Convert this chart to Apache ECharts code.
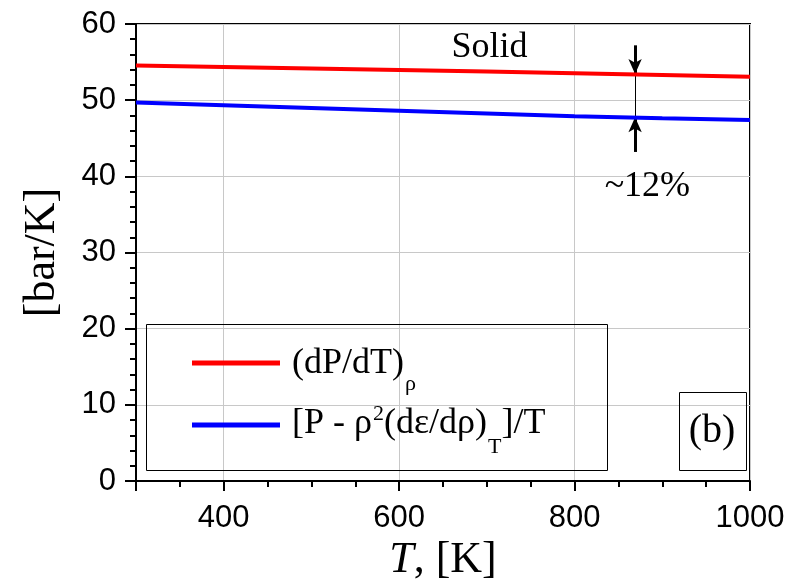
<!DOCTYPE html>
<html><head><meta charset="utf-8">
<script src="https://cdn.jsdelivr.net/npm/echarts@6/dist/echarts.min.js"></script>
<style>html,body{margin:0;padding:0;background:#fff}#c{width:790px;height:588px}</style>
</head><body><div id="c"></div>
<script>
// ---- data ----
const temperatures = [300, 400, 500, 600, 700, 800, 900, 1000];
const dPdT = [54.55, 54.35, 54.15, 53.95, 53.75, 53.52, 53.30, 53.08];
const energyRoute = [49.68, 49.32, 48.96, 48.60, 48.24, 47.88, 47.62, 47.38];
const seriesNames = ['dPdT', 'energy'];
const xTickLabels = [400, 600, 800, 1000];
const yTickLabels = [0, 10, 20, 30, 40, 50, 60];
// annotation anchors (data units)
const arrowT = 869;
const arrowDown = [57.2, 53.45];
const arrowUp = [43.2, 47.75];
const textNotes = [
  { name: 'Solid', T: 703, v: 56.85 },
  { name: '~12%', T: 883, v: 38.7 }
];

const SERIF = '"Liberation Serif", "Times New Roman", serif';
const SANS = '"Liberation Sans", Arial, sans-serif';

const chart = echarts.init(document.getElementById('c'), null, { renderer: 'canvas' });

const legendRich = {
  n: { fontFamily: SERIF, fontSize: 36, lineHeight: 40, color: '#000', verticalAlign: 'top', padding: [6, 0, 0, 0] },
  n0: { fontFamily: SERIF, fontSize: 36, lineHeight: 40, color: '#000', verticalAlign: 'top', padding: [6, 0, 0, 7] },
  s: { fontFamily: SERIF, fontSize: 22, lineHeight: 22, color: '#000', verticalAlign: 'top', padding: [33, 0, 0, 1] },
  t: { fontFamily: SERIF, fontSize: 22, lineHeight: 22, color: '#000', verticalAlign: 'top', padding: [36, 0, 0, 1] },
  p: { fontFamily: SERIF, fontSize: 22, lineHeight: 22, color: '#000', verticalAlign: 'top', padding: [3, 0, 0, 1] }
};

const option = {
  animation: false,
  backgroundColor: '#fff',
  grid: { left: 136, right: 40, top: 24, bottom: 107, show: true, borderColor: '#000', borderWidth: 2, backgroundColor: 'transparent' },
  xAxis: [
    {
      type: 'value', min: 300, max: 1000, splitNumber: 4,
      axisLine: { show: true, lineStyle: { color: '#000', width: 2 } },
      axisTick: { show: true, length: 10, lineStyle: { color: '#000', width: 2 } },
      axisLabel: { show: true, customValues: xTickLabels, margin: 22, color: '#000', fontFamily: SANS, fontSize: 31,
        formatter: v => String(v) },
      splitLine: { show: true, lineStyle: { color: '#c8c8c8', width: 1 } },
      name: '{i|T}{n|, [K]}', nameLocation: 'middle', nameGap: 52,
      nameTextStyle: { fontFamily: SERIF, fontSize: 44, color: '#000',
        rich: { i: { fontFamily: SERIF, fontSize: 44, fontStyle: 'italic', color: '#000' },
                n: { fontFamily: SERIF, fontSize: 44, color: '#000' } } }
    },
    {
      type: 'value', min: 300, max: 1000, interval: 50, position: 'bottom',
      axisLine: { show: false },
      axisTick: { show: true, length: 6, lineStyle: { color: '#000', width: 2 } },
      axisLabel: { show: false },
      splitLine: { show: false }
    }
  ],
  yAxis: {
    type: 'value', min: 0, max: 60, interval: 10,
    axisLine: { show: true, lineStyle: { color: '#000', width: 2 } },
    axisTick: { show: true, length: 11, lineStyle: { color: '#000', width: 2 } },
    minorTick: { show: true, splitNumber: 5, length: 6, lineStyle: { color: '#000', width: 2 } },
    axisLabel: { margin: 20, color: '#000', fontFamily: SANS, fontSize: 31,
      formatter: v => (yTickLabels.indexOf(v) >= 0 ? String(v) : '') },
    splitLine: { show: true, lineStyle: { color: '#c8c8c8', width: 1 } },
    name: '[bar/K]', nameLocation: 'middle', nameGap: 72,
    nameTextStyle: { fontFamily: SERIF, fontSize: 44, color: '#000' }
  },
  legend: {
    show: true, orient: 'vertical', left: 187, top: 335, itemWidth: 88, itemHeight: 5, itemGap: 5,
    icon: 'rect', selectedMode: false,
    data: [
      { name: seriesNames[0], textStyle: { height: 46 } },
      { name: seriesNames[1], textStyle: { height: 50 } }
    ],
    formatter: function (name) {
      if (name === seriesNames[0]) return '{n0|(dP/dT)}{s|ρ}';
      return '{n0|[P - ρ}{p|2}{n|(dε/dρ)}{t|T}{n|]/T}';
    },
    textStyle: { fontFamily: SERIF, fontSize: 36, color: '#000', rich: legendRich }
  },
  graphic: [
    { type: 'rect', left: 146, top: 324, z: 50, shape: { width: 461, height: 146 },
      style: { fill: 'rgba(0,0,0,0)', stroke: '#000', lineWidth: 1 } },
    { type: 'rect', left: 679, top: 392, z: 50, shape: { width: 67, height: 78 },
      style: { fill: 'rgba(0,0,0,0)', stroke: '#000', lineWidth: 1 } },
    { type: 'text', x: 712, y: 431, z: 51,
      style: { text: '(b)', font: '40px ' + SERIF, fill: '#000', align: 'center', verticalAlign: 'middle' } }
  ],
  series: [
    {
      type: 'line', name: seriesNames[0], symbol: 'none', smooth: false,
      data: temperatures.map((t, i) => [t, dPdT[i]]),
      lineStyle: { color: '#ff0000', width: 4 }, itemStyle: { color: '#ff0000' },
      z: 5,
      markLine: {
        silent: true, animation: false, symbolSize: [10, 15],
        label: { show: false }, emphasis: { disabled: true },
        lineStyle: { color: '#000', type: 'solid' },
        data: [
          [{ coord: [arrowT, arrowDown[0]], symbol: 'none', lineStyle: { width: 3, color: '#000', type: 'solid' } },
           { coord: [arrowT, arrowDown[1]], symbol: 'arrow' }],
          [{ coord: [arrowT, arrowDown[1]], symbol: 'none', lineStyle: { width: 1, color: '#000', type: 'solid' } },
           { coord: [arrowT, arrowUp[1]], symbol: 'none' }],
          [{ coord: [arrowT, arrowUp[0]], symbol: 'none', lineStyle: { width: 3, color: '#000', type: 'solid' } },
           { coord: [arrowT, arrowUp[1]], symbol: 'arrow' }]
        ]
      }
    },
    {
      type: 'line', name: seriesNames[1], symbol: 'none', smooth: false,
      data: temperatures.map((t, i) => [t, energyRoute[i]]),
      lineStyle: { color: '#0000ff', width: 4 }, itemStyle: { color: '#0000ff' },
      z: 5,
      markPoint: {
        silent: true, animation: false, symbol: 'circle', symbolSize: 1,
        itemStyle: { color: 'rgba(0,0,0,0)' },
        label: { show: true, position: 'inside', color: '#000', fontFamily: SERIF, fontSize: 36, formatter: p => p.name },
        data: textNotes.map(d => ({ name: d.name, coord: [d.T, d.v] }))
      }
    }
  ]
};
chart.setOption(option);
</script>
</body></html>
